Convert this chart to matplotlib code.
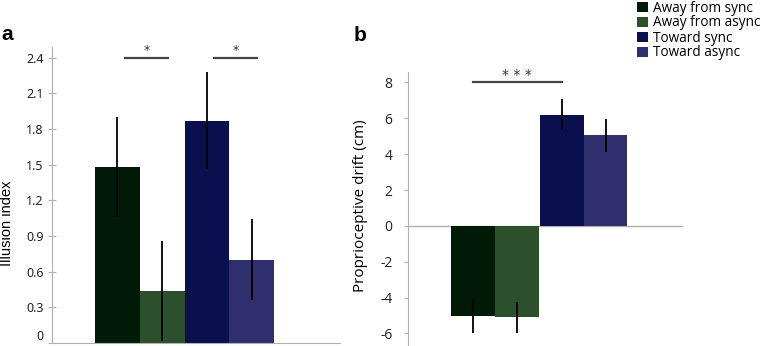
import numpy as np
import matplotlib
matplotlib.use("Agg")
import matplotlib.pyplot as plt
from matplotlib.patches import Patch

# conditions / colours
conditions = ["Away from sync", "Away from async", "Toward sync", "Toward async"]
colors = ["#001a08", "#2c4f2c", "#0a0f4e", "#2e2f6c"]

# panel a: illusion index
illusion = [1.48, 0.44, 1.87, 0.70]
illusion_err = [0.42, 0.42, 0.41, 0.34]
illusion_ticks = [0, 0.3, 0.6, 0.9, 1.2, 1.5, 1.8, 2.1, 2.4]

# panel b: proprioceptive drift (cm)
drift = [-5.0, -5.1, 6.2, 5.05]
drift_err = [0.98, 0.85, 0.85, 0.93]
drift_ticks = [-6, -4, -2, 0, 2, 4, 6, 8]

grey = "#b0b0b0"
W, H = 761, 346
fig = plt.figure(figsize=(W / 100, H / 100), dpi=100)

##################   panel a   ##################
axa = fig.add_axes([52 / W, 1 - 343 / H, (340 - 52) / W, 296 / H])
xa = np.arange(4)
axa.bar(xa, illusion, width=1.0, color=colors)
axa.errorbar(xa, illusion, yerr=illusion_err, fmt="none", ecolor="black",
             elinewidth=1.3, capsize=0)
axa.set_xlim(-1.46, 4.97)
axa.set_ylim(0, 2.49)
axa.set_yticks(illusion_ticks)
axa.set_yticklabels(["0" if t == 0 else f"{t:.1f}" for t in illusion_ticks],
                    fontsize=9, family="Noto Sans", color="#222222")
axa.tick_params(axis="y", direction="inout", length=6, width=0.8, colors=grey,
                labelcolor="#222222", pad=3)
axa.get_yticklabels()[0].set_va("bottom")
axa.set_xticks([])
for s in ["top", "right"]:
    axa.spines[s].set_visible(False)
axa.spines["left"].set_color(grey)
axa.spines["bottom"].set_color(grey)
axa.set_ylabel("Illusion index", fontsize=10.5, family="Liberation Sans")
axa.yaxis.set_label_coords(-0.132, 0.405)

for x0, x1 in [(0.17, 1.13), (2.16, 3.12)]:
    axa.plot([x0, x1], [2.4, 2.4], color="#444444", lw=1.6, clip_on=False)
    axa.text((x0 + x1) / 2, 2.41, "*", ha="center", va="bottom", fontsize=9,
             color="#333333")

##################   panel b   ##################
axb = fig.add_axes([407.7 / W, 0, (683.3 - 407.7) / W, (H - 71.7) / H])
xb = np.array([0, 1, 2.04, 3.04])
axb.bar(xb, drift, width=1.0, color=colors)
axb.errorbar(xb, drift, yerr=drift_err, fmt="none", ecolor="black",
             elinewidth=1.3, capsize=0)
axb.axhline(0, color=grey, lw=1.0, zorder=0)
axb.set_xlim(-1.5, 4.82)
axb.set_ylim(-6.7, 8.6)
axb.set_yticks(drift_ticks)
axb.set_yticklabels([str(t) for t in drift_ticks], fontsize=10,
                    family="Open Sans")
axb.tick_params(axis="y", direction="out", length=3, width=0.8, colors=grey,
                labelcolor="#222222", pad=8)
axb.set_xticks([])
for s in ["top", "right", "bottom"]:
    axb.spines[s].set_visible(False)
axb.spines["left"].set_color(grey)
axb.set_ylabel("Proprioceptive drift (cm)", fontsize=11, family="Open Sans")
axb.yaxis.set_label_coords(-0.143, 0.51)

axb.plot([0, 2.04], [8, 8], color="#444444", lw=1.6, clip_on=False)
axb.text(1.0, 8.05, "* * *", ha="center", va="bottom", fontsize=10,
         color="#333333")

##################   labels / legend   ##################
fig.text(1 / W, 1 - 40 / H, "a", fontsize=15, fontweight="bold",
         family="Liberation Sans")
fig.text(354 / W, 1 - 41 / H, "b", fontsize=15, fontweight="bold",
         family="Liberation Sans")

handles = [Patch(facecolor=c, edgecolor="none") for c in colors]
fig.legend(handles, conditions, loc="upper left",
           bbox_to_anchor=(637 / W, 1 - 0.5 / H), frameon=False,
           prop={"family": "Open Sans", "size": 9.8},
           handlelength=0.8, handleheight=0.8, handletextpad=0.4,
           labelspacing=0.0, borderpad=0, borderaxespad=0)

fig.savefig("out.png", dpi=100)
